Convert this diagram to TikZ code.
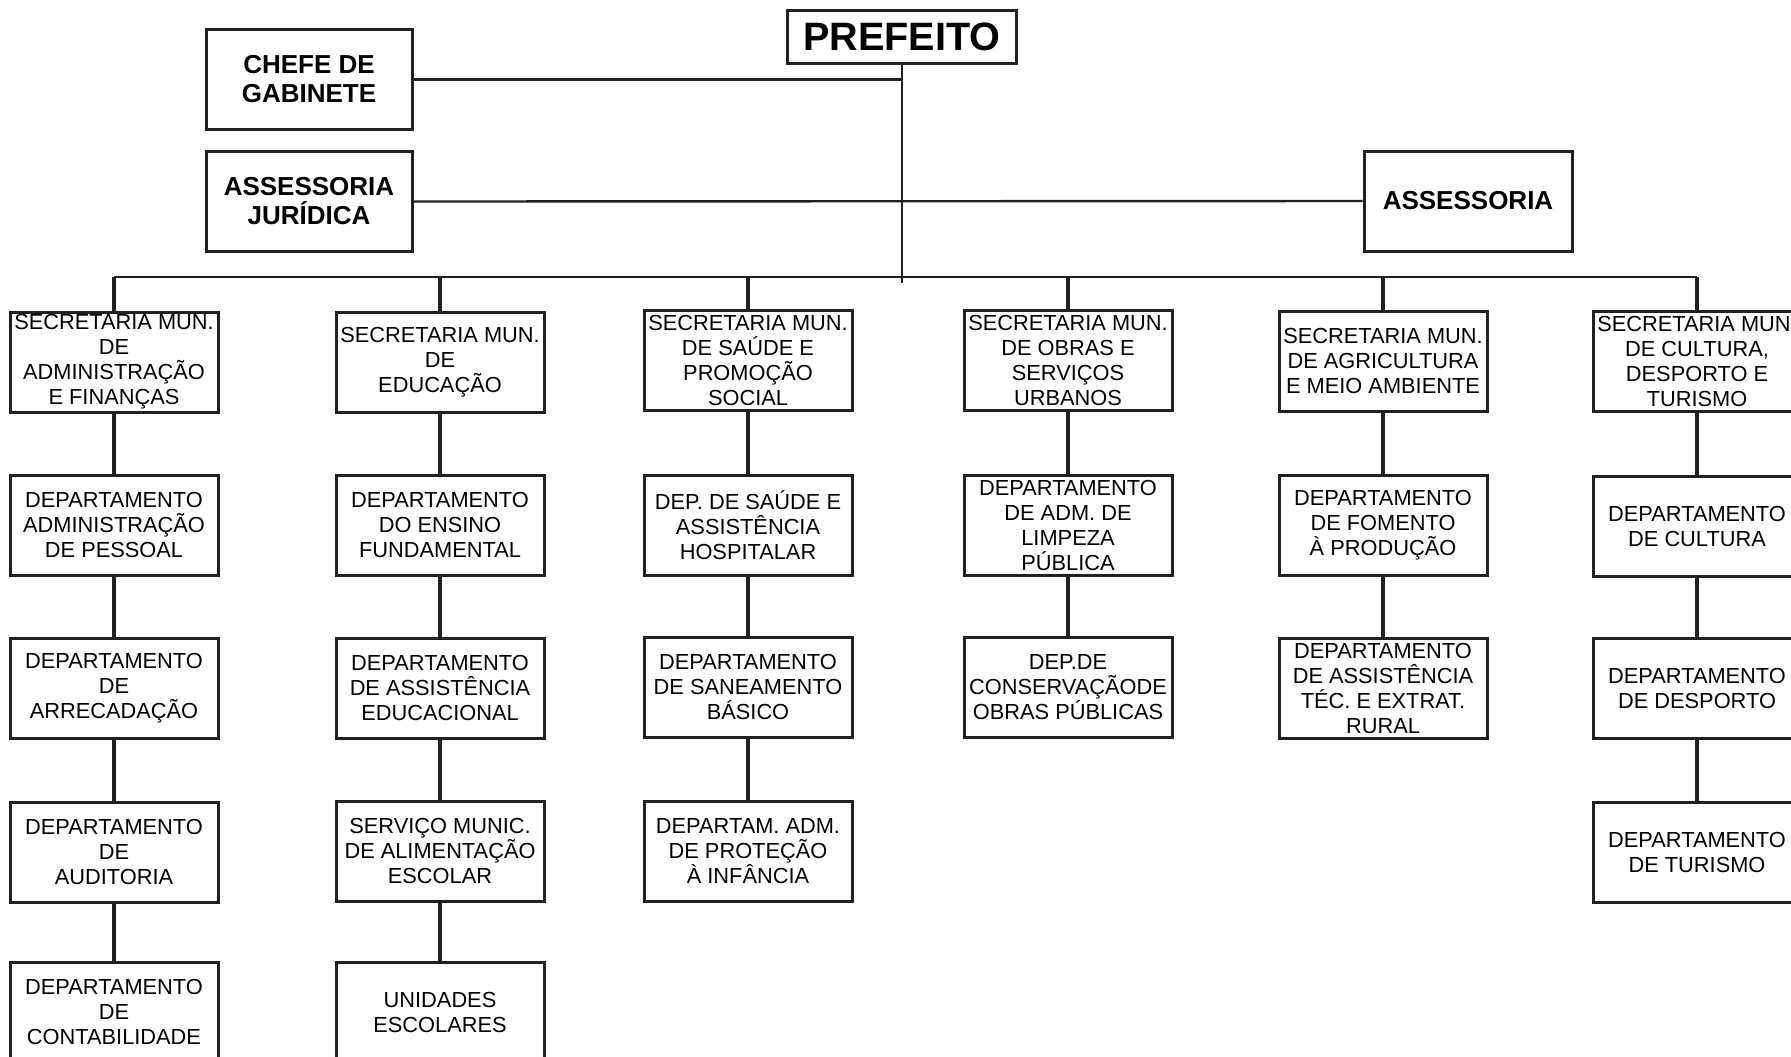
\documentclass[tikz,border=0pt]{standalone}
\usepackage{fontspec}
\setmainfont{Liberation Sans}
\usepackage{tikz}
\definecolor{ink}{RGB}{35,31,32}

\begin{document}
\begin{tikzpicture}
[x=0.5pt,y=-0.5pt,
unit/.style={rectangle,draw=ink,line width=1.5pt,minimum width=104pt,minimum height=50pt,inner sep=0pt,align=center,font=\fontsize{10.9pt}{12.5pt}\selectfont},
head/.style={unit,minimum width=103pt,font=\fontsize{13pt}{14.5pt}\selectfont\bfseries},
link/.style={draw=ink,line width=1.6pt},
hline/.style={draw=ink,line width=1.2pt}]
\useasboundingbox (0,0) rectangle (1791,1056);
% top
\node[unit,minimum width=114.5pt,minimum height=26.5pt,font=\fontsize{19.8pt}{22pt}\selectfont\bfseries] (pref) at (902,36.5) {PREFEITO};
\node[head] (chefe) at (309,79.5) {CHEFE DE\\GABINETE};
\node[head] (jur) at (309,201.5) {ASSESSORIA\\JURÍDICA};
\node[head,minimum width=104pt] (asse) at (1468,201) {ASSESSORIA};
\coordinate (bus) at (902,277);
\coordinate (pend) at (902,283);
% secretarias
\node[unit] (s1) at (114,362) {SECRETARIA MUN.\\DE\\ADMINISTRAÇÃO\\E FINANÇAS};
\node[unit] (s2) at (440,362) {SECRETARIA MUN.\\DE\\EDUCAÇÃO};
\node[unit] (s3) at (748,360) {SECRETARIA MUN.\\DE SAÚDE E\\PROMOÇÃO\\SOCIAL};
\node[unit] (s4) at (1068,360) {SECRETARIA MUN.\\DE OBRAS E\\SERVIÇOS\\URBANOS};
\node[unit] (s5) at (1383,361) {SECRETARIA MUN.\\DE AGRICULTURA\\E MEIO AMBIENTE};
\node[unit] (s6) at (1697,361) {SECRETARIA MUN.\\DE CULTURA,\\DESPORTO E\\TURISMO};
% departamentos
\node[unit] (d1a) at (114,525) {DEPARTAMENTO\\ADMINISTRAÇÃO\\DE PESSOAL};
\node[unit] (d2a) at (440,525) {DEPARTAMENTO\\DO ENSINO\\FUNDAMENTAL};
\node[unit] (d3a) at (748,525) {DEP. DE SAÚDE E\\ASSISTÊNCIA\\HOSPITALAR};
\node[unit] (d4a) at (1068,525) {DEPARTAMENTO\\DE ADM. DE\\LIMPEZA\\PÚBLICA};
\node[unit] (d5a) at (1383,525) {DEPARTAMENTO\\DE FOMENTO\\À PRODUÇÃO};
\node[unit] (d6a) at (1697,526) {DEPARTAMENTO\\DE CULTURA};
\node[unit] (d1b) at (114,688) {DEPARTAMENTO\\DE\\ARRECADAÇÃO};
\node[unit] (d2b) at (440,688) {DEPARTAMENTO\\DE ASSISTÊNCIA\\EDUCACIONAL};
\node[unit] (d3b) at (748,687) {DEPARTAMENTO\\DE SANEAMENTO\\BÁSICO};
\node[unit] (d4b) at (1068,687) {DEP.DE\\CONSERVAÇÃODE\\OBRAS PÚBLICAS};
\node[unit] (d5b) at (1383,688) {DEPARTAMENTO\\DE ASSISTÊNCIA\\TÉC. E EXTRAT.\\RURAL};
\node[unit] (d6b) at (1697,688) {DEPARTAMENTO\\DE DESPORTO};
\node[unit] (d1c) at (114,852) {DEPARTAMENTO\\DE\\AUDITORIA};
\node[unit] (d2c) at (440,851) {SERVIÇO MUNIC.\\DE ALIMENTAÇÃO\\ESCOLAR};
\node[unit] (d3c) at (748,851) {DEPARTAM. ADM.\\DE PROTEÇÃO\\À INFÂNCIA};
\node[unit] (d6c) at (1697,852) {DEPARTAMENTO\\DE TURISMO};
\node[unit] (d1d) at (114,1012) {DEPARTAMENTO\\DE\\CONTABILIDADE};
\node[unit] (d2d) at (440,1012) {UNIDADES\\ESCOLARES};
% ligacoes
\draw[ink,line width=0.9pt] (pref.south) -- (pend);
\draw[hline] (chefe.east) -- (chefe.east -| pref.south);
\draw[hline] (jur.east) -- (asse.west);
\draw[hline] (s1.north |- bus) -- (s6.north |- bus);
\path[link] (s1.north |- bus) edge (s1) (s2.north |- bus) edge (s2)
(s3.north |- bus) edge (s3) (s4.north |- bus) edge (s4)
(s5.north |- bus) edge (s5) (s6.north |- bus) edge (s6);
\path[link] (s1) edge (d1a) (d1a) edge (d1b) (d1b) edge (d1c) (d1c) edge (d1d)
(s2) edge (d2a) (d2a) edge (d2b) (d2b) edge (d2c) (d2c) edge (d2d)
(s3) edge (d3a) (d3a) edge (d3b) (d3b) edge (d3c)
(s4) edge (d4a) (d4a) edge (d4b)
(s5) edge (d5a) (d5a) edge (d5b)
(s6) edge (d6a) (d6a) edge (d6b) (d6b) edge (d6c);
\end{tikzpicture}
\end{document}
